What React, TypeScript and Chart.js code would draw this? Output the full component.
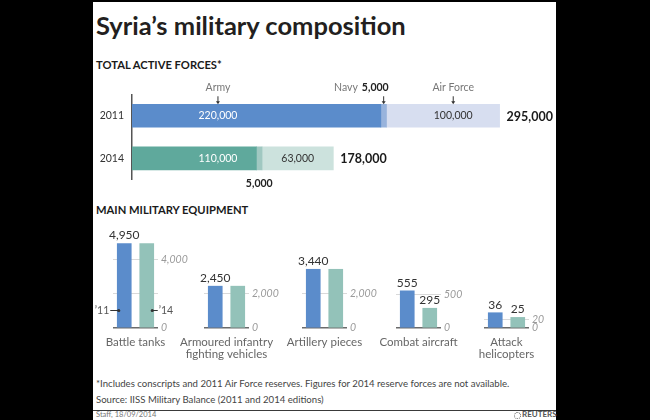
import React, { useEffect, useRef } from 'react';
import { Chart, registerables } from 'chart.js';

Chart.register(...registerables);

const FONT = 'Lato, "Open Sans", sans-serif';
Chart.defaults.font.family = FONT;

// ---- Total active forces ----
const years = ['2011', '2014'];
const armyTroops = [220000, 110000];
const navyTroops = [5000, 5000];
const airForceTroops = [100000, 63000];
const totalForces = [295000, 178000];
const branchNames = ['Army', 'Navy', 'Air Force'];

// ---- Main military equipment ----
const equipmentNames = [
  ['Battle tanks'],
  ['Armoured infantry', 'fighting vehicles'],
  ['Artillery pieces'],
  ['Combat aircraft'],
  ['Attack', 'helicopters'],
];
const equipment2011 = [4950, 2450, 3440, 555, 36];
const equipment2014 = [4950, 2450, 3440, 295, 25];
const equipmentGridTicks = [[0, 2000, 4000], [0, 2000], [0, 2000], [0, 500], [0, 20]];
const equipmentLabelledTicks = [[0, 4000], [0, 2000], [0, 2000], [0, 500], [0, 20]];
const equipmentAxisMax = [5740, 5740, 5740, 1463, 231];
const yearShort = ['\u201911', '\u201914'];

const COLORS_2011 = ['#5b8ccb', '#98b3dc', '#d7def0'];
const COLORS_2014 = ['#5fa99c', '#a0c8c1', '#cce2dd'];
const EQUIP_COLORS = ['#5b8ccb', '#93c2b9'];

const fmt = (v: number) => v.toLocaleString('en-US');

// layout (page pixels)
const panelLeft = [113, 203.7, 302, 395.8, 484.3];

function Label(props: {
  x: number; base: number; size: number; weight?: number; color?: string; children: any; spacing?: number;
}) {
  const { x, base, size, weight = 400, color = '#333', children, spacing = 0 } = props;
  return (
    <div
      style={{
        position: 'absolute',
        left: x,
        top: base - size * 0.887,
        fontFamily: FONT,
        fontSize: size,
        lineHeight: `${size}px`,
        fontWeight: weight,
        color,
        whiteSpace: 'nowrap',
        letterSpacing: spacing,
      }}
    >
      {children}
    </div>
  );
}

function ForcesChart() {
  const ref = useRef<HTMLCanvasElement>(null);
  useEffect(() => {
    const annotate = {
      id: 'forceAnnotations',
      afterDatasetsDraw(chart: any) {
        const ctx = chart.ctx;
        const xs = chart.scales.x;
        const metas = [0, 1, 2].map((d) => chart.getDatasetMeta(d));
        ctx.save();
        ctx.textBaseline = 'middle';
        years.forEach((_, i) => {
          const a = metas[0].data[i] as any;
          const f = metas[2].data[i] as any;
          const y = a.y;
          ctx.font = `10.5px ${FONT}`;
          ctx.textAlign = 'center';
          ctx.fillStyle = '#ffffff';
          ctx.fillText(fmt(armyTroops[i]), xs.getPixelForValue(76000), y);
          ctx.fillStyle = '#333333';
          const afFrac = i === 0 ? 0.59 : 0.5;
          ctx.fillText(fmt(airForceTroops[i]), f.base + (f.x - f.base) * afFrac, y);
          ctx.font = `bold 12.5px ${FONT}`;
          ctx.fillStyle = '#1a1a1a';
          ctx.textAlign = 'left';
          ctx.fillText(fmt(totalForces[i]), f.x + 7, y + 1);
        });

        // branch pointers on 2011 bar
        const a0 = metas[0].data[0] as any;
        const n0 = metas[1].data[0] as any;
        const f0 = metas[2].data[0] as any;
        const top0 = a0.y - a0.height / 2;
        const labelY = top0 - 16.5;
        const arrow = (x: number) => {
          ctx.strokeStyle = '#333';
          ctx.fillStyle = '#333';
          ctx.lineWidth = 1;
          ctx.beginPath();
          ctx.moveTo(x, top0 - 8);
          ctx.lineTo(x, top0 - 2);
          ctx.stroke();
          ctx.beginPath();
          ctx.moveTo(x - 2, top0 - 3);
          ctx.lineTo(x + 2, top0 - 3);
          ctx.lineTo(x, top0);
          ctx.closePath();
          ctx.fill();
        };
        const armyX = xs.getPixelForValue(76000);
        const navyX = (n0.x + n0.base) / 2;
        const afX = f0.base + (f0.x - f0.base) * 0.59;
        ctx.font = `10.5px ${FONT}`;
        ctx.fillStyle = '#777';
        ctx.textAlign = 'center';
        ctx.fillText(branchNames[0], armyX, labelY);
        ctx.fillText(branchNames[2], afX, labelY);
        ctx.font = `bold 10.5px ${FONT}`;
        ctx.fillStyle = '#222';
        ctx.textAlign = 'right';
        const navyVal = fmt(navyTroops[0]);
        ctx.fillText(navyVal, navyX + 5, labelY);
        const w = ctx.measureText(navyVal).width;
        ctx.font = `10.5px ${FONT}`;
        ctx.fillStyle = '#777';
        ctx.fillText(branchNames[1], navyX + 5 - w - 4, labelY);
        arrow(armyX);
        arrow(navyX);
        arrow(afX);

        // navy value below 2014 bar
        const n1 = metas[1].data[1] as any;
        ctx.font = `bold 10.5px ${FONT}`;
        ctx.fillStyle = '#222';
        ctx.textAlign = 'center';
        ctx.fillText(fmt(navyTroops[1]), (n1.x + n1.base) / 2, n1.y + n1.height / 2 + 14);
        ctx.restore();
      },
    };

    const chart = new Chart(ref.current as HTMLCanvasElement, {
      type: 'bar',
      data: {
        labels: years,
        datasets: [
          { label: branchNames[0], data: armyTroops, backgroundColor: [COLORS_2011[0], COLORS_2014[0]], barThickness: 23 },
          { label: branchNames[1], data: navyTroops, backgroundColor: [COLORS_2011[1], COLORS_2014[1]], barThickness: 23 },
          { label: branchNames[2], data: airForceTroops, backgroundColor: [COLORS_2011[2], COLORS_2014[2]], barThickness: 23 },
        ],
      },
      options: {
        indexAxis: 'y',
        animation: false,
        responsive: false,
        maintainAspectRatio: false,
        layout: { padding: { top: 16.5, bottom: 13.4, left: 0, right: 0 } },
        plugins: { legend: { display: false }, tooltip: { enabled: false } },
        scales: {
          x: { stacked: true, display: false, min: 0, max: 383700 },
          y: {
            stacked: true,
            grid: { display: false, drawTicks: false },
            border: { display: true, color: '#555', width: 1.5 },
            ticks: { color: '#333', font: { family: FONT, size: 10.5 }, padding: 8 },
            afterFit: (s: any) => {
              s.width = 48;
              s.paddingTop = 0;
              s.paddingBottom = 0;
            },
          },
        },
      } as any,
      plugins: [annotate],
    });
    return () => chart.destroy();
  }, []);
  return (
    <canvas
      ref={ref}
      width={482}
      height={115}
      style={{ position: 'absolute', left: 84, top: 78, width: 482, height: 115 }}
    />
  );
}

function EquipmentChart({ i }: { i: number }) {
  const ref = useRef<HTMLCanvasElement>(null);
  useEffect(() => {
    const vals = [equipment2011[i], equipment2014[i]];
    const annotate = {
      id: 'equipAnnotations',
      afterDatasetsDraw(chart: any) {
        const ctx = chart.ctx;
        const meta = chart.getDatasetMeta(0);
        const area = chart.chartArea;
        ctx.save();
        ctx.textBaseline = 'middle';
        ctx.textAlign = 'center';
        ctx.font = `12px ${FONT}`;
        ctx.fillStyle = '#333';
        meta.data.forEach((bar: any, j: number) => {
          if (j === 1 && vals[1] === vals[0]) return;
          ctx.fillText(fmt(vals[j]), bar.x, bar.y - 8);
        });
        ctx.font = `11.5px ${FONT}`;
        ctx.fillStyle = '#666';
        const cx = (area.left + area.right) / 2;
        equipmentNames[i].forEach((line, k) => {
          ctx.fillText(line, cx, area.bottom + 14 + k * 12.5);
        });
        if (i === 0) {
          const b0 = meta.data[0] as any;
          const b1 = meta.data[1] as any;
          const y = area.bottom - 17.5;
          const left = b0.x - b0.width / 2;
          const right = b1.x + b1.width / 2;
          ctx.strokeStyle = '#333';
          ctx.fillStyle = '#333';
          ctx.lineWidth = 1;
          ctx.beginPath();
          ctx.moveTo(left + 1.5, y);
          ctx.lineTo(left - 7, y);
          ctx.moveTo(right - 1.5, y);
          ctx.lineTo(right + 4, y);
          ctx.stroke();
          ctx.beginPath();
          ctx.arc(left + 1.5, y, 1.6, 0, Math.PI * 2);
          ctx.arc(right - 1.5, y, 1.6, 0, Math.PI * 2);
          ctx.fill();
          ctx.font = `10.5px ${FONT}`;
          ctx.fillStyle = '#555';
          ctx.textAlign = 'right';
          ctx.fillText(yearShort[0], left - 8, y);
          ctx.textAlign = 'left';
          ctx.fillText(yearShort[1], right + 5, y);
        }
        ctx.restore();
      },
    };

    const chart = new Chart(ref.current as HTMLCanvasElement, {
      type: 'bar',
      data: {
        labels: years,
        datasets: [{ data: vals, backgroundColor: EQUIP_COLORS, barThickness: 14 }],
      },
      options: {
        animation: false,
        responsive: false,
        maintainAspectRatio: false,
        layout: { padding: { top: 8, bottom: 34, left: 30, right: 0 } },
        plugins: { legend: { display: false }, tooltip: { enabled: false } },
        scales: {
          x: { display: false },
          y: {
            position: 'right',
            min: 0,
            max: equipmentAxisMax[i],
            afterBuildTicks: (s: any) => {
              s.ticks = equipmentGridTicks[i].map((v) => ({ value: v }));
            },
            afterFit: (s: any) => {
              s.width = 36;
              s.paddingTop = 0;
              s.paddingBottom = 0;
            },
            grid: {
              drawTicks: false,
              color: (c: any) => (c.tick && c.tick.value === 0 ? '#6b6b6b' : '#d9d9d9'),
              lineWidth: (c: any) => (c.tick && c.tick.value === 0 ? 1.5 : 1),
            },
            border: { display: false },
            ticks: {
              autoSkip: false,
              padding: 3,
              color: '#9a9a9a',
              font: { family: FONT, size: 10.5, style: 'italic' },
              callback: (v: any) => (equipmentLabelledTicks[i].includes(v) ? fmt(v) : ''),
            },
          },
        },
      } as any,
      plugins: [annotate],
    });
    return () => chart.destroy();
  }, [i]);
  return (
    <canvas
      ref={ref}
      width={111}
      height={140}
      style={{ position: 'absolute', left: panelLeft[i] - 30, top: 222, width: 111, height: 140 }}
    />
  );
}

export default function App() {
  return (
    <div
      style={{
        position: 'fixed',
        left: 0,
        top: 0,
        width: 650,
        height: 420,
        background: '#000',
        overflow: 'hidden',
      }}
    >
      <div style={{ position: 'absolute', left: 93, top: 2, width: 463, height: 418, background: '#fff' }} />
      <Label x={96} base={36} size={25.5} weight={700} color="#231f20">
        Syria’s military composition
      </Label>
      <Label x={96} base={69.3} size={11.2} weight={700} color="#1a1a1a">
        TOTAL ACTIVE FORCES*
      </Label>
      <ForcesChart />
      <Label x={96} base={214.3} size={11.2} weight={700} color="#1a1a1a">
        MAIN MILITARY EQUIPMENT
      </Label>
      {equipment2011.map((_, i) => (
        <EquipmentChart key={i} i={i} />
      ))}
      <Label x={96} base={387.3} size={9.6} color="#444">
        *Includes conscripts and 2011 Air Force reserves. Figures for 2014 reserve forces are not available.
      </Label>
      <Label x={96} base={403.3} size={9.6} color="#444">
        Source: IISS Military Balance (2011 and 2014 editions)
      </Label>
      <div style={{ position: 'absolute', left: 93, top: 409.8, width: 463, height: 1.5, background: '#3a3a3a' }} />
      <Label x={96} base={417.5} size={7.5} color="#777">
        Staff, 18/09/2014
      </Label>
      <div
        style={{
          position: 'absolute',
          left: 514,
          top: 411.5,
          width: 5,
          height: 5,
          borderRadius: '50%',
          border: '1px dotted #666',
        }}
      />
      <Label x={522} base={417.3} size={8} weight={700} color="#555">
        REUTERS
      </Label>
    </div>
  );
}
